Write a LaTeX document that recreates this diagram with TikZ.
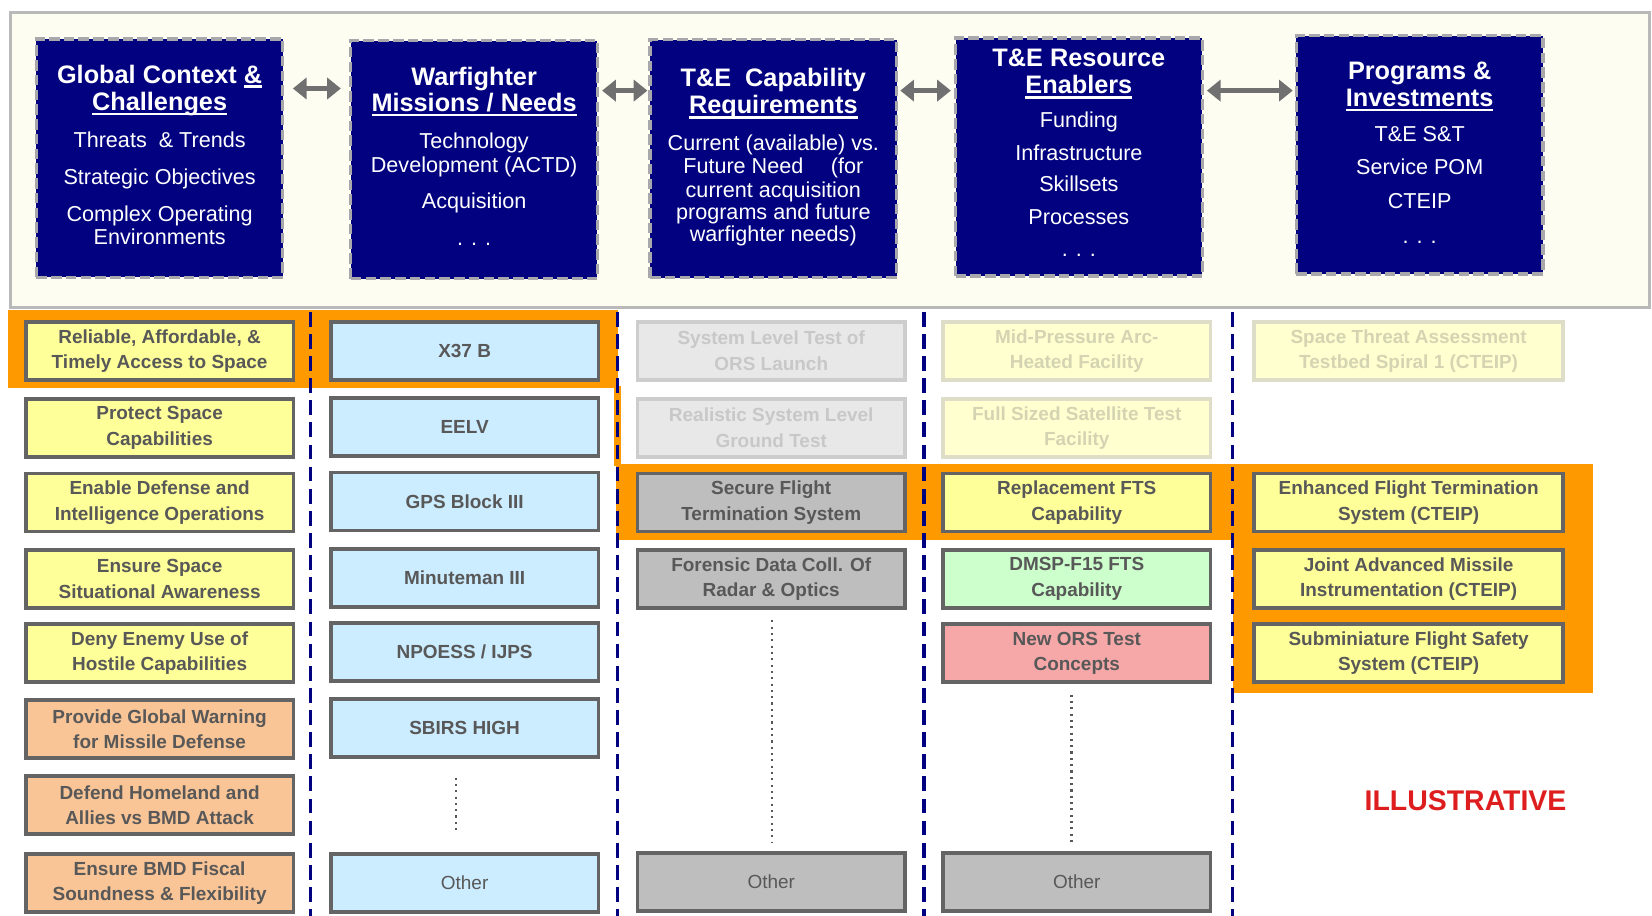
\documentclass[tikz,border=0pt]{standalone}
\usepackage{fontspec}
\setmainfont{Liberation Sans}
\usetikzlibrary{arrows.meta}
\definecolor{navy}{RGB}{2,2,128}
\definecolor{topborder}{RGB}{168,168,172}
\definecolor{panelfill}{RGB}{253,253,242}
\definecolor{panelborder}{RGB}{185,185,185}
\definecolor{orng}{RGB}{255,153,0}
\definecolor{cellborder}{RGB}{100,100,100}
\definecolor{celltext}{RGB}{88,88,88}
\definecolor{yel}{RGB}{255,255,153}
\definecolor{peach}{RGB}{250,197,150}
\definecolor{lblue}{RGB}{204,236,255}
\definecolor{gry}{RGB}{190,190,190}
\definecolor{fgry}{RGB}{232,232,232}
\definecolor{fgryb}{RGB}{205,205,205}
\definecolor{fgryt}{RGB}{200,200,200}
\definecolor{fyel}{RGB}{255,255,208}
\definecolor{fyelb}{RGB}{222,222,200}
\definecolor{fyelt}{RGB}{212,212,178}
\definecolor{lgreen}{RGB}{204,255,204}
\definecolor{pink}{RGB}{246,168,168}
\definecolor{arrowgray}{RGB}{112,112,112}
\definecolor{illred}{RGB}{222,30,30}
\newsavebox\ulbox
\newcommand{\myul}[1]{\sbox\ulbox{#1}\leavevmode\rlap{\rule[-4.5pt]{\wd\ulbox}{2.5pt}}\usebox\ulbox}
\tikzset{
  topbox/.style={draw=topborder, line width=3pt, dash pattern=on 10pt off 4pt, fill=navy, minimum width=234pt, minimum height=226pt, inner sep=0pt},
  ttl/.style={text=white, font=\fontsize{24}{26}\selectfont\bfseries, anchor=base, inner sep=0pt},
  bdy/.style={text=white, font=\fontsize{20.5}{22}\selectfont, anchor=base, inner sep=0pt},
  dblarrow/.style={draw=arrowgray, line width=5pt, {Triangle[width=20pt,length=13pt]}-{Triangle[width=20pt,length=13pt]}},
  cell/.style={draw=cellborder, line width=3.5pt, minimum width=254pt, minimum height=55pt, inner sep=0pt, align=center, text=celltext, font=\fontsize{18}{24}\selectfont\bfseries, yshift=0pt},
  wide/.style={minimum width=293pt},
  cyel/.style={cell, fill=yel},
  cpeach/.style={cell, fill=peach},
  cblue/.style={cell, fill=lblue},
  cgray/.style={cell, fill=gry},
  cgreen/.style={cell, fill=lgreen},
  cpink/.style={cell, fill=pink},
  cfgray/.style={cell, fill=fgry, draw=fgryb, text=fgryt},
  cfyel/.style={cell, fill=fyel, draw=fyelb, text=fyelt},
  sep/.style={draw=navy, line width=3pt, dash pattern=on 14pt off 7pt},
  dots/.style={draw=celltext, line width=2pt, dash pattern=on 2pt off 4pt},
  hilite/.style={fill=orng, draw=none}
}
\begin{document}
\begin{tikzpicture}[x=1pt,y=-1pt]
\useasboundingbox (0,0) rectangle (1568,869);
\fill[white] (0,0) rectangle (1568,869);
% top panel
\node[draw=panelborder, line width=3pt, fill=panelfill, minimum width=1556pt, minimum height=280pt, inner sep=0pt] (panel) at (788,152) {};
% top boxes
\node[topbox] (g) at (151.5,150) {};
\node[topbox] (w) at (450,151.5) {};
\node[topbox] (c) at (734,150.5) {};
\node[topbox] (r) at (1024,149) {};
\node[topbox] (p) at (1347.5,147) {};
% arrows
\coordinate (ya) at (0,84);
\coordinate (yb) at (0,86);
\draw[dblarrow, shorten <=8pt, shorten >=8pt] (g.east |- ya) -- (w.west |- ya);
\draw[dblarrow, shorten <=3pt, shorten >=1pt] (w.east |- yb) -- (c.west |- yb);
\draw[dblarrow, shorten <=2pt, shorten >=3pt] (c.east |- yb) -- (r.west |- yb);
\draw[dblarrow, shorten <=3pt, shorten >=2pt] (r.east |- yb) -- (p.west |- yb);
% top texts
\node[ttl] (g1) at (151.5,79) {Global Context \myul{\&}};
\node[ttl] (g2) at (151.5,105) {\myul{Challenges}};
\node[bdy] (g3) at (151.5,140) {Threats \ \& Trends};
\node[bdy] (g4) at (151.5,175) {Strategic Objectives};
\node[bdy] (g5) at (151.5,210) {Complex Operating};
\node[bdy] (g6) at (151.5,232) {Environments};
\node[ttl] (w1) at (450,81) {Warfighter};
\node[ttl] (w2) at (450,106) {\myul{Missions / Needs}};
\node[bdy] (w3) at (450,141) {Technology};
\node[bdy] (w4) at (450,164) {Development (ACTD)};
\node[bdy] (w5) at (450,198) {Acquisition};
\node[bdy] (w6) at (450,233) {. . .};
\node[ttl] (c1) at (734,82) {T\&E \ Capability};
\node[ttl] (c2) at (734,108) {\myul{Requirements}};
\node[bdy] (c3) at (734,143) {Current (available) vs.};
\node[bdy] (c4) at (734,165) {Future Need \quad (for};
\node[bdy] (c5) at (734,187) {current acquisition};
\node[bdy] (c6) at (734,208) {programs and future};
\node[bdy] (c7) at (734,229) {warfighter needs)};
\node[ttl] (r1) at (1024,63) {T\&E Resource};
\node[ttl] (r2) at (1024,89) {\myul{Enablers}};
\node[bdy] (r3) at (1024,121) {Funding};
\node[bdy] (r4) at (1024,152) {Infrastructure};
\node[bdy] (r5) at (1024,182) {Skillsets};
\node[bdy] (r6) at (1024,213) {Processes};
\node[bdy] (r7) at (1024,243) {. . .};
\node[ttl] (p1) at (1347.5,75) {Programs \&};
\node[ttl] (p2) at (1347.5,101) {\myul{Investments}};
\node[bdy] (p3) at (1347.5,134) {T\&E S\&T};
\node[bdy] (p4) at (1347.5,166) {Service POM};
\node[bdy] (p5) at (1347.5,198) {CTEIP};
\node[bdy] (p6) at (1347.5,231) {. . .};
% orange highlights
\fill[hilite] (8,294) rectangle (587,368);
\fill[hilite] (583,366) rectangle (589,442);
\fill[hilite] (585,440) rectangle (1172,513);
\fill[hilite] (1170,440) rectangle (1512,658);
% separators
\draw[sep] (295,296) -- (295,869);
\draw[sep] (586,296) -- (586,869);
\draw[sep] (877,296) -- (877,869);
\draw[sep] (1170,296) -- (1170,869);
% column 1
\node[cyel] (a1) at (151.5,333) {Reliable, Affordable, \&\\Timely Access to Space};
\node[cyel] (a2) at (151.5,406) {Protect Space\\Capabilities};
\node[cyel] (a3) at (151.5,477) {Enable Defense and\\Intelligence Operations};
\node[cyel] (a4) at (151.5,549.5) {Ensure Space\\Situational Awareness};
\node[cyel] (a5) at (151.5,620) {Deny Enemy Use of\\Hostile Capabilities};
\node[cpeach] (a6) at (151.5,692) {Provide Global Warning\\for Missile Defense};
\node[cpeach] (a7) at (151.5,764) {Defend Homeland and\\Allies vs BMD Attack};
\node[cpeach] (a8) at (151.5,838) {Ensure BMD Fiscal\\Soundness \& Flexibility};
% column 2
\node[cblue] (b1) at (441,333) {X37 B};
\node[cblue] (b2) at (441,405) {EELV};
\node[cblue] (b3) at (441,476) {GPS Block III};
\node[cblue] (b4) at (441,548.5) {Minuteman III};
\node[cblue] (b5) at (441,619) {NPOESS / IJPS};
\node[cblue] (b6) at (441,691) {SBIRS HIGH};
\node[cblue, font=\fontsize{18}{24}\selectfont] (b8) at (441,838) {Other};
\coordinate (b7t) at (433,738);
\coordinate (b7b) at (433,790);
\draw[dots] (b7t) -- (b7b);
% column 3
\node[cfgray] (d1) at (732,333) {System Level Test of\\ORS Launch};
\node[cfgray] (d2) at (732,406) {Realistic System Level\\Ground Test};
\node[cgray] (d3) at (732,477) {Secure Flight\\Termination System};
\node[cgray] (d4) at (732,549.5) {Forensic Data Coll. Of\\Radar \& Optics};
\node[cgray, font=\fontsize{18}{24}\selectfont] (d8) at (732,837) {Other};
\coordinate (d7) at (733,800);
\draw[dots] (d4.south -| d7) ++(0,10) -- (d7);
% column 4
\node[cfyel] (e1) at (1022,333) {Mid-Pressure Arc-\\Heated Facility};
\node[cfyel] (e2) at (1022,406) {Full Sized Satellite Test\\Facility};
\node[cyel] (e3) at (1022,477) {Replacement FTS\\Capability};
\node[cgreen] (e4) at (1022,549.5) {DMSP-F15 FTS\\Capability};
\node[cpink] (e5) at (1022,620) {New ORS Test\\Concepts};
\node[cgray, font=\fontsize{18}{24}\selectfont] (e8) at (1022,837) {Other};
\coordinate (e7) at (1017,800);
\draw[dots] (e5.south -| e7) ++(0,10) -- (e7);
% column 5
\node[cfyel, wide] (f1) at (1337,333) {Space Threat Assessment\\Testbed Spiral 1 (CTEIP)};
\node[cyel, wide] (f3) at (1337,477) {Enhanced Flight Termination\\System (CTEIP)};
\node[cyel, wide] (f4) at (1337,549.5) {Joint Advanced Missile\\Instrumentation (CTEIP)};
\node[cyel, wide] (f5) at (1337,620) {Subminiature Flight Safety\\System (CTEIP)};
% illustrative
\node[text=illred, font=\fontsize{27}{30}\selectfont\bfseries, inner sep=0pt] (ill) at (1391,760) {ILLUSTRATIVE};
\end{tikzpicture}
\end{document}
